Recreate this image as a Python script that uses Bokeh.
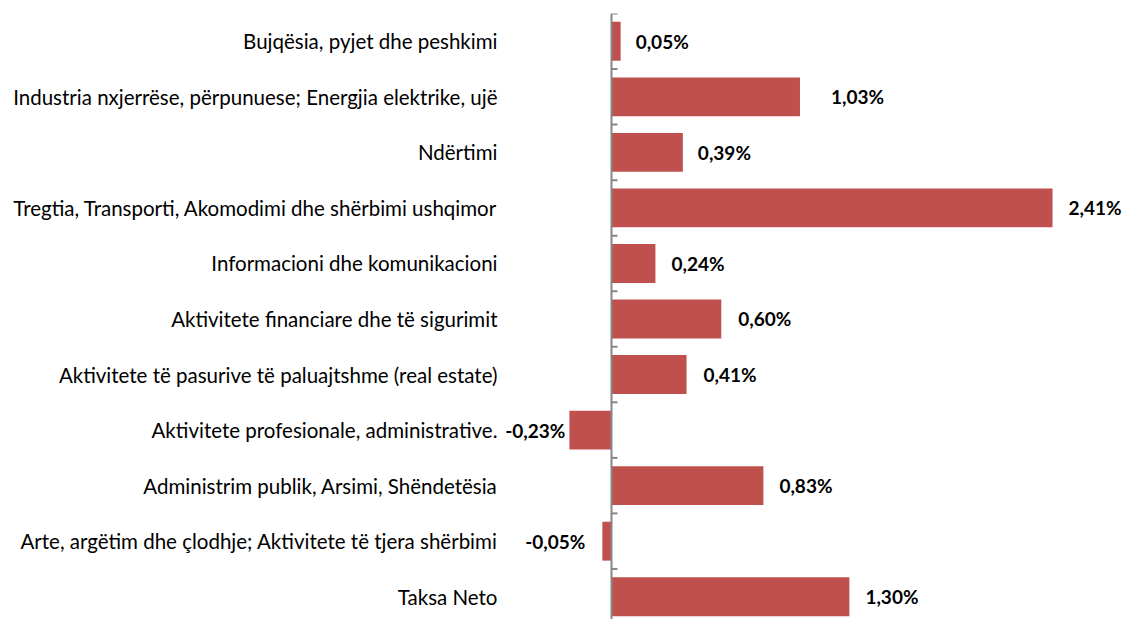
from bokeh.plotting import figure
from bokeh.models import ColumnDataSource, Range1d, Span, FixedTicker
from bokeh.core.properties import value
from bokeh.embed import file_html
from bokeh.resources import INLINE

categories = [
    "Bujqësia, pyjet dhe peshkimi",
    "Industria nxjerrëse, përpunuese; Energjia elektrike, ujë",
    "Ndërtimi",
    "Tregtia, Transporti, Akomodimi dhe shërbimi ushqimor",
    "Informacioni dhe komunikacioni",
    "Aktivitete financiare dhe të sigurimit",
    "Aktivitete të pasurive të paluajtshme (real estate)",
    "Aktivitete profesionale, administrative.",
    "Administrim publik, Arsimi, Shëndetësia",
    "Arte, argëtim dhe çlodhje; Aktivitete të tjera shërbimi",
    "Taksa Neto",
]
values = [0.05, 1.03, 0.39, 2.41, 0.24, 0.60, 0.41, -0.23, 0.83, -0.05, 1.30]

# style: pixel gap between bar end and its value label (as placed in the original)
label_gaps = [15, 31, 15, 16, 16, 17, 17, 4, 16, 17, 16]

n = len(categories)
pos = list(range(n))
labels = [("%.2f%%" % v).replace(".", ",") for v in values]

src_pos = ColumnDataSource(dict(
    y=[p for p, v in zip(pos, values) if v >= 0],
    v=[v for v in values if v >= 0],
    lab=[l for l, v in zip(labels, values) if v >= 0],
    off=[g for g, v in zip(label_gaps, values) if v >= 0],
))
src_neg = ColumnDataSource(dict(
    y=[p for p, v in zip(pos, values) if v < 0],
    v=[v for v in values if v < 0],
    lab=[l for l, v in zip(labels, values) if v < 0],
    off=[-g for g, v in zip(label_gaps, values) if v < 0],
))

FRAME_LEFT = 502.0
ZERO_PX = 611.0
PX_PER_UNIT = 183.0
W, H = 1123, 619

p = figure(width=W, height=H, output_backend="svg", toolbar_location=None,
           x_range=Range1d(-(ZERO_PX - FRAME_LEFT) / PX_PER_UNIT, (W - ZERO_PX) / PX_PER_UNIT),
           y_range=Range1d(n - 0.5 - 5 / 55.6, -0.5),
           min_border_left=int(FRAME_LEFT), min_border_right=0, min_border_top=13, min_border_bottom=0)
p.outline_line_color = None
p.grid.visible = False
p.xaxis.visible = False

ya = p.yaxis[0]
ya.ticker = FixedTicker(ticks=pos)
ya.major_label_overrides = {i: c for i, c in zip(pos, categories)}
ya.axis_line_color = None
ya.major_tick_line_color = None
ya.minor_tick_line_color = None
ya.major_tick_in = 0
ya.major_tick_out = 0
ya.major_label_standoff = 5
ya.major_label_text_font = "Lato"
ya.major_label_text_font_size = "20.5px"
ya.major_label_text_color = "#000000"

bar_color = "#C0504D"
p.hbar(y="y", left=0, right="v", height=0.7, source=src_pos, fill_color=bar_color, line_color=None)
p.hbar(y="y", left=0, right="v", height=0.7, source=src_neg, fill_color=bar_color, line_color=None)

p.text(x="v", y="y", text="lab", source=src_pos, x_offset="off", text_align="left",
       text_baseline="middle", text_font=value("Lato"), text_font_style="bold",
       text_font_size="19px", text_color="#000000")
p.text(x="v", y="y", text="lab", source=src_neg, x_offset="off", text_align="right",
       text_baseline="middle", text_font=value("Lato"), text_font_style="bold",
       text_font_size="19px", text_color="#000000")

# vertical axis at zero with boundary ticks
p.add_layout(Span(location=0, dimension="height", line_color="#868686", line_width=2))
bounds = [i - 0.5 for i in range(n + 1)]
p.segment(x0=[0] * len(bounds), x1=[6 / PX_PER_UNIT] * len(bounds), y0=bounds, y1=bounds,
          line_color="#868686", line_width=2)

open("out.html", "w").write(file_html(p, INLINE))
